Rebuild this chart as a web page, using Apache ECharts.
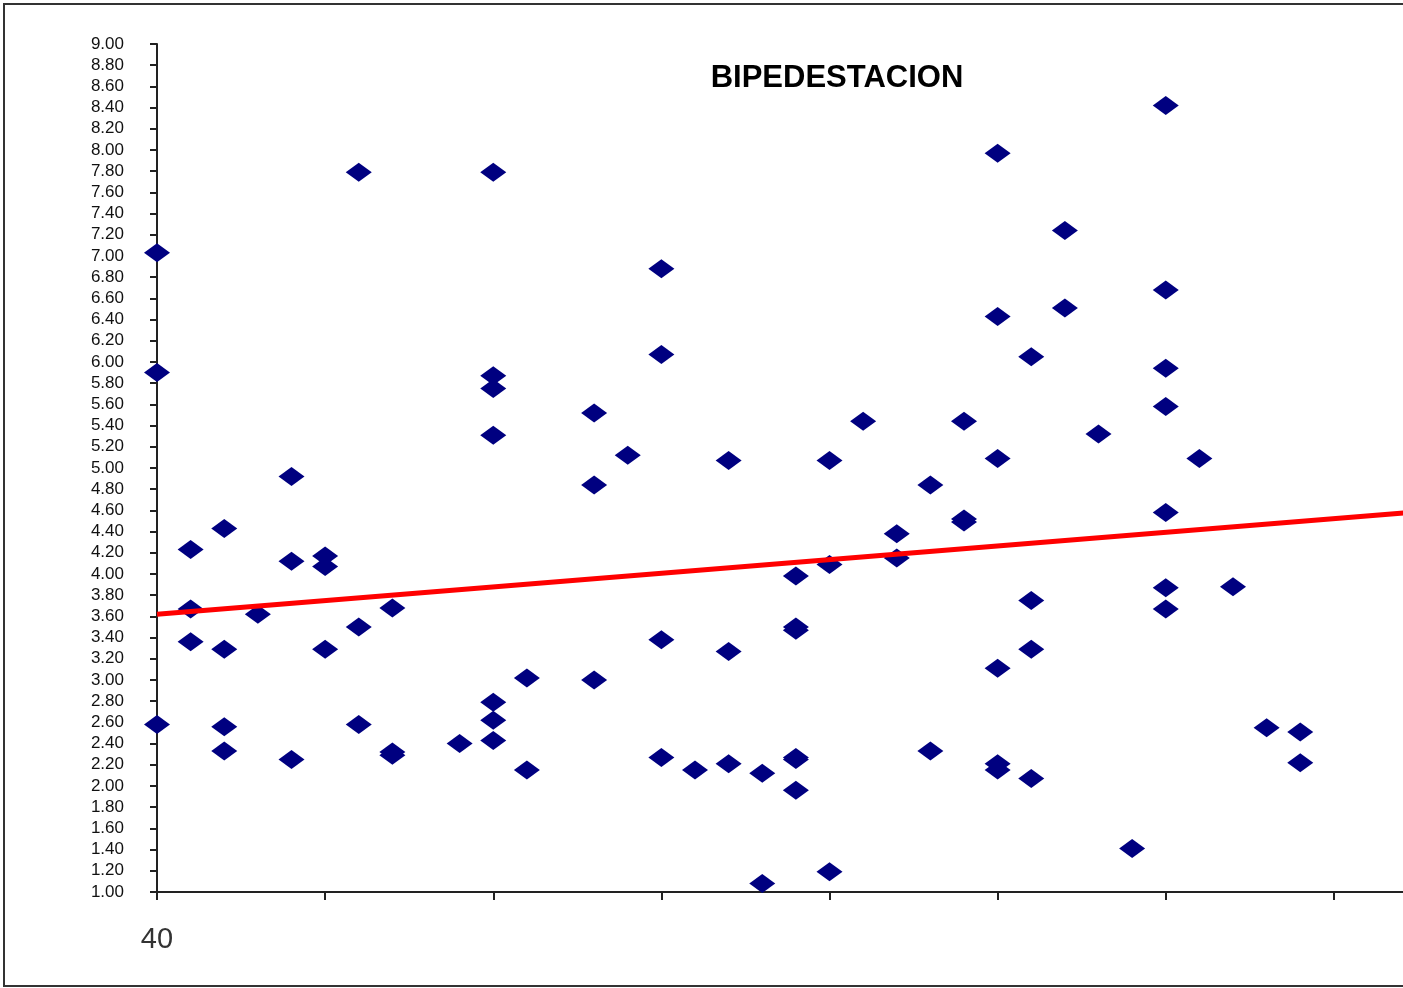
<!DOCTYPE html>
<html>
<head>
<meta charset="utf-8">
<title>BIPEDESTACION</title>
<script src="https://cdn.jsdelivr.net/npm/echarts@6/dist/echarts.min.js"></script>
<style>
  html, body { margin: 0; padding: 0; background: #fff; overflow: hidden; }
  #chart { width: 1560px; height: 988px; }
</style>
</head>
<body>
<div id="chart"></div>
<script>
// Age (years) of each subject and the measured value while standing
const ages = [
  40, 40, 40,
  41, 41, 41,
  42, 42, 42, 42,
  43,
  44, 44, 44,
  45, 45, 45,
  46, 46, 46,
  47, 47, 47,
  49,
  50, 50, 50, 50, 50, 50, 50,
  51, 51,
  53, 53, 53,
  54,
  55, 55, 55, 55,
  56,
  57, 57, 57,
  58, 58,
  59, 59, 59, 59, 59, 59,
  60, 60, 60,
  61,
  62, 62,
  63, 63,
  64, 64, 64,
  65, 65, 65, 65, 65, 65,
  66, 66, 66, 66,
  67, 67,
  68,
  69,
  70, 70, 70, 70, 70, 70, 70,
  71,
  72,
  73,
  74, 74
];
const bipedestacion = [
  7.03, 5.90, 2.58,
  4.23, 3.67, 3.36,
  4.43, 3.29, 2.56, 2.33,
  3.62,
  4.92, 4.12, 2.25,
  4.17, 4.07, 3.29,
  7.79, 3.50, 2.58,
  3.68, 2.32, 2.29,
  2.40,
  7.79, 5.87, 5.75, 5.31, 2.79, 2.62, 2.43,
  3.02, 2.15,
  5.52, 4.84, 3.00,
  5.12,
  6.88, 6.07, 3.38, 2.27,
  2.15,
  5.07, 3.27, 2.21,
  2.12, 1.08,
  3.98, 3.50, 3.47, 2.27, 2.25, 1.96,
  5.07, 4.09, 1.19,
  5.44,
  4.38, 4.15,
  4.84, 2.33,
  5.44, 4.52, 4.49,
  7.97, 6.43, 5.09, 3.11, 2.21, 2.15,
  6.05, 3.75, 3.29, 2.07,
  7.24, 6.51,
  5.32,
  1.41,
  8.42, 6.68, 5.94, 5.58, 4.58, 3.87, 3.67,
  5.09,
  3.88,
  2.55,
  2.51, 2.22
];
// Linear trend line end points
const trendAges = [40, 80];
const trendValues = [3.62, 4.65];
// Only the first age tick carries a label
const xTickLabels = { 40: '40' };

const points = ages.map((a, i) => [a, bipedestacion[i]]);
const trend = trendAges.map((a, i) => [a, trendValues[i]]);

const chart = echarts.init(document.getElementById('chart'), null, { renderer: 'canvas' });
chart.setOption({
  backgroundColor: '#ffffff',
  animation: false,
  title: {
    text: 'BIPEDESTACION',
    left: 832, top: 58, textAlign: 'center',
    textStyle: { fontFamily: 'Liberation Sans, Arial, sans-serif', fontSize: 31, fontWeight: 'bold', color: '#000' }
  },
  graphic: [{
    type: 'rect', silent: true, z: -1,
    shape: { x: 4, y: 4, width: 1540, height: 982 },
    style: { fill: 'none', stroke: '#333', lineWidth: 2 }
  }],
  grid: { left: 157, right: 58, top: 44, bottom: 96 },
  xAxis: {
    type: 'value', min: 40, max: 80, interval: 5,
    splitLine: { show: false },
    axisLine: { show: true, onZero: false, lineStyle: { color: '#222', width: 2 } },
    axisTick: { show: true, length: 8, lineStyle: { color: '#222', width: 2 } },
    axisLabel: {
      margin: 33, fontSize: 29, color: '#333', fontFamily: 'Liberation Sans, Arial, sans-serif',
      formatter: v => xTickLabels[v] || ''
    }
  },
  yAxis: {
    type: 'value', min: 1, max: 9, interval: 0.2,
    splitLine: { show: false },
    axisLine: { show: true, onZero: false, lineStyle: { color: '#222', width: 2 } },
    axisTick: { show: true, length: 7, lineStyle: { color: '#222', width: 2 } },
    axisLabel: {
      margin: 33, fontSize: 17, color: '#111', fontFamily: 'Liberation Sans, Arial, sans-serif',
      formatter: v => v.toFixed(2)
    }
  },
  series: [
    {
      name: 'BIPEDESTACION', type: 'scatter', data: points,
      symbol: 'diamond', symbolSize: [26, 19],
      itemStyle: { color: '#000080', opacity: 1 }, z: 3
    },
    {
      name: 'Tendencia', type: 'line', data: trend,
      symbol: 'none', lineStyle: { color: '#ff0000', width: 5 }, z: 4
    }
  ]
});
</script>
</body>
</html>
